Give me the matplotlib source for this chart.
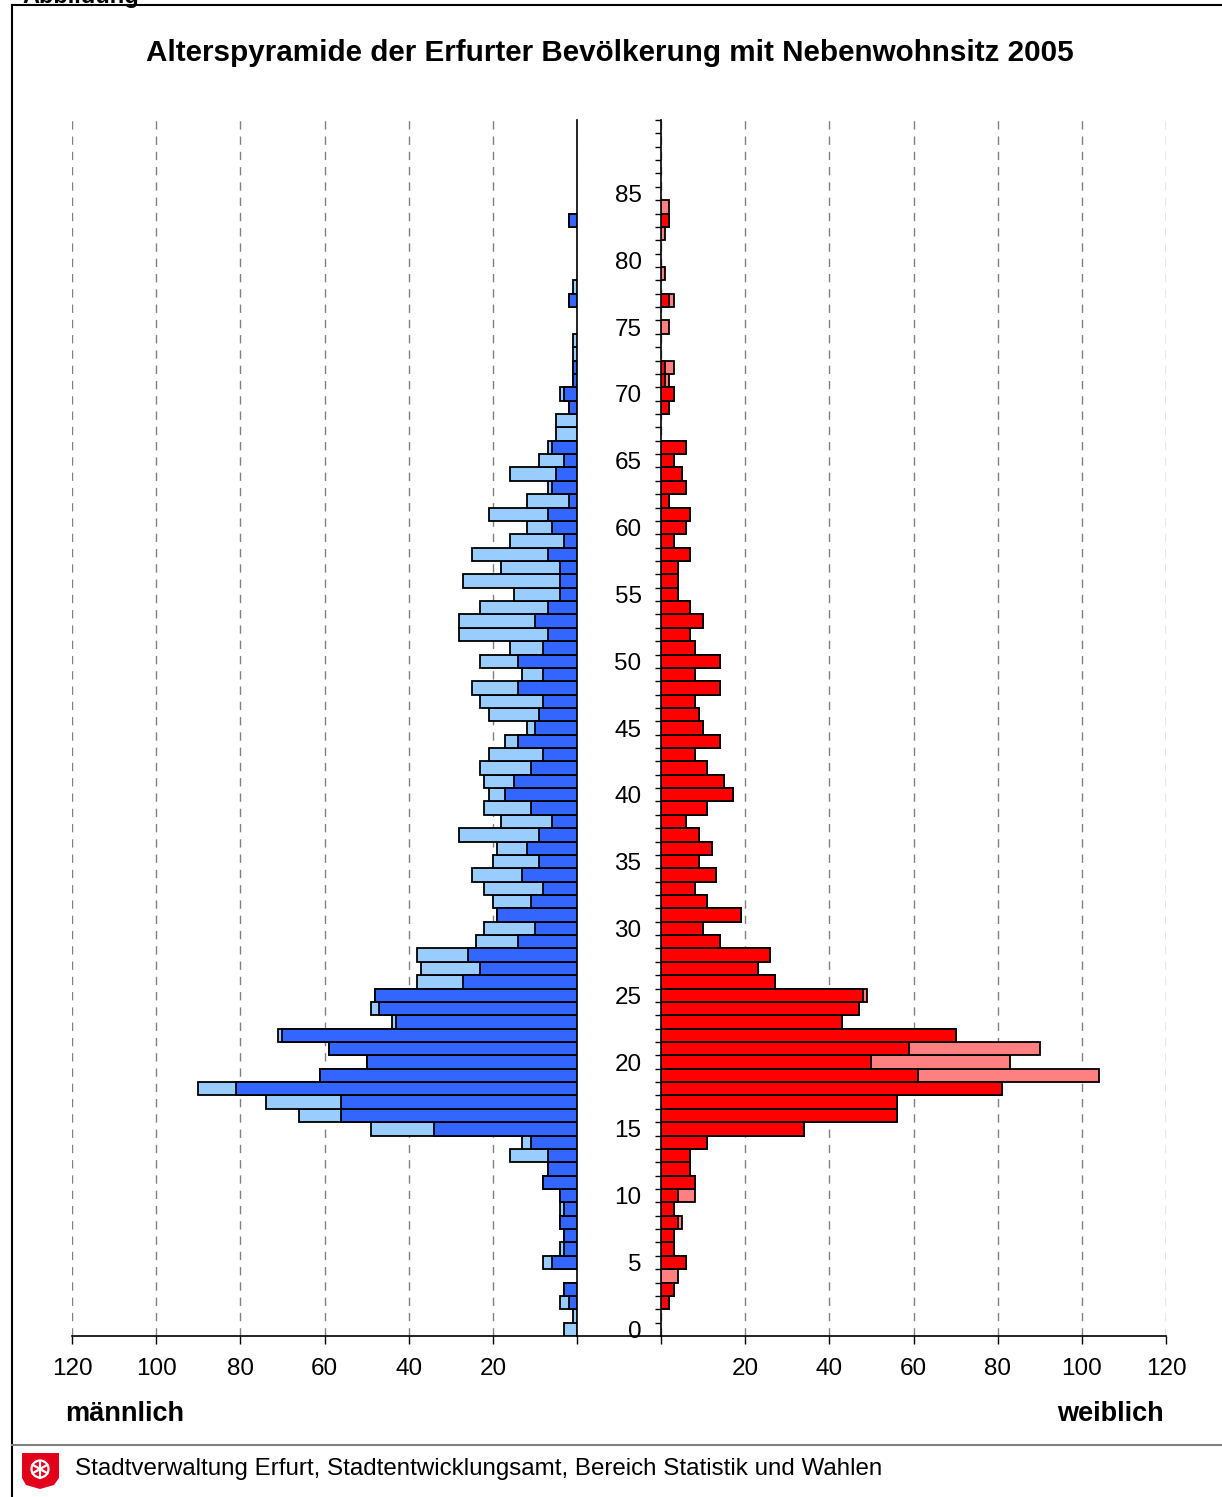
import numpy as np
import matplotlib
matplotlib.use("Agg")
import matplotlib.pyplot as plt
from matplotlib.lines import Line2D
from matplotlib.patches import Polygon, Circle

plt.rcParams['font.family'] = ['Liberation Sans', 'DejaVu Sans']

alter = np.arange(0, 91)

# maennlich: dunkler Anteil und Gesamtlaenge (hell)
m_dunkel = [0, 0, 2, 3, 0, 6, 3, 3, 4, 3,
            4, 8, 7, 7, 11, 34, 56, 56, 81, 61,
            50, 59, 70, 43, 47, 48, 27, 23, 26, 14,
            10, 19, 11, 8, 13, 9, 12, 9, 6, 11,
            17, 15, 11, 8, 14, 10, 9, 8, 14, 8,
            14, 8, 7, 10, 7, 4, 4, 4, 7, 3,
            6, 7, 2, 6, 5, 3, 6, 0, 0, 2,
            3, 1, 1, 0, 0, 0, 0, 2, 0, 0,
            0, 0, 0, 2, 0, 0, 0, 0, 0, 0,
            0]
m_gesamt = [3, 1, 4, 3, 0, 8, 4, 3, 4, 4,
            4, 8, 7, 16, 13, 49, 66, 74, 90, 61,
            50, 59, 71, 44, 49, 48, 38, 37, 38, 24,
            22, 19, 20, 22, 25, 20, 19, 28, 18, 22,
            21, 22, 23, 21, 17, 12, 21, 23, 25, 13,
            23, 16, 28, 28, 23, 15, 27, 18, 25, 16,
            12, 21, 12, 7, 16, 9, 7, 5, 5, 2,
            4, 1, 1, 1, 1, 0, 0, 2, 1, 0,
            0, 0, 0, 2, 0, 0, 0, 0, 0, 0,
            0]

# weiblich
w_dunkel = [0, 0, 2, 3, 0, 6, 3, 3, 4, 3,
            4, 8, 7, 7, 11, 34, 56, 56, 81, 61,
            50, 59, 70, 43, 47, 48, 27, 23, 26, 14,
            10, 19, 11, 8, 13, 9, 12, 9, 6, 11,
            17, 15, 11, 8, 14, 10, 9, 8, 14, 8,
            14, 8, 7, 10, 7, 4, 4, 4, 7, 3,
            6, 7, 2, 6, 5, 3, 6, 0, 0, 2,
            3, 1, 1, 0, 0, 0, 0, 2, 0, 0,
            0, 0, 0, 2, 0, 0, 0, 0, 0, 0,
            0]
w_gesamt = [0, 0, 2, 3, 4, 6, 3, 3, 5, 3,
            8, 8, 7, 7, 11, 34, 56, 56, 81, 104,
            83, 90, 70, 43, 47, 49, 27, 23, 26, 14,
            10, 19, 11, 8, 13, 9, 12, 9, 6, 11,
            17, 15, 11, 8, 14, 10, 9, 8, 14, 8,
            14, 8, 7, 10, 7, 4, 4, 4, 7, 3,
            6, 7, 2, 6, 5, 3, 6, 0, 0, 2,
            3, 2, 3, 0, 0, 2, 0, 3, 0, 1,
            0, 0, 1, 2, 2, 0, 0, 0, 0, 0,
            0]

x_ticks = [0, 20, 40, 60, 80, 100, 120]
y_labels = list(range(0, 86, 5))

titel = "Alterspyramide der Erfurter Bevölkerung mit Nebenwohnsitz 2005"
quelle = "Stadtverwaltung Erfurt, Stadtentwicklungsamt, Bereich Statistik und Wahlen"

W, H = 1222, 1497
fig = plt.figure(figsize=(W / 100, H / 100), dpi=100)


def box(x0, y0, x1, y1):
    return [x0 / W, 1 - y1 / H, (x1 - x0) / W, (y1 - y0) / H]


ax_m = fig.add_axes(box(72, 120, 577, 1336))
ax_w = fig.add_axes(box(661, 120, 1166, 1336))

kanten = dict(height=1.0, edgecolor='black', linewidth=1.3)

mg = np.array(m_gesamt); md = np.array(m_dunkel)
wg = np.array(w_gesamt); wd = np.array(w_dunkel)
ax_m.barh(alter[mg > 0], mg[mg > 0], color='#99ccff', zorder=3, **kanten)
ax_m.barh(alter[md > 0], md[md > 0], color='#3366ff', zorder=4, **kanten)
ax_w.barh(alter[wg > 0], wg[wg > 0], color='#ff8080', zorder=3, **kanten)
ax_w.barh(alter[wd > 0], wd[wd > 0], color='#ff0000', zorder=4, **kanten)

ax_m.set_xlim(120, 0)
ax_w.set_xlim(0, 120)
for ax in (ax_m, ax_w):
    ax.set_ylim(-0.5, 90.5)
    ax.set_xticks(x_ticks)
    ax.set_xticklabels(['' if v == 0 else str(v) for v in x_ticks])
    ax.tick_params(axis='x', direction='out', length=6, width=1,
                   labelsize=17.5, pad=9.5)
    ax.grid(axis='x', color='#808080', linestyle=(0, (6, 5)), linewidth=1.0)
    ax.spines['top'].set_visible(False)
    for s in ax.spines.values():
        s.set_linewidth(1.2)

ax_m.spines['left'].set_visible(False)
ax_m.tick_params(axis='y', left=False, right=False, labelleft=False)
ax_w.spines['right'].set_visible(False)
ax_w.set_yticks(y_labels)
ax_w.set_yticklabels([str(v) for v in y_labels])
ax_w.set_yticks(np.arange(0.5, 91, 1), minor=True)
ax_w.tick_params(axis='y', which='major', length=0, pad=14, labelsize=17.5)
ax_w.tick_params(axis='y', which='minor', length=4.5, width=1, direction='out')

# Grundlinie zwischen den beiden Haelften
fig.add_artist(Line2D([577 / W, 661 / W], [1 - 1336 / H] * 2,
                      color='black', lw=1.2))

fig.text(610 / W, 1 - 53 / H, titel, ha='center', va='center',
         fontsize=21.3, fontweight='bold')
fig.text(65 / W, 1 - 1414 / H, 'männlich', ha='left', va='center',
         fontsize=19.5, fontweight='bold')
fig.text(1164 / W, 1 - 1414 / H, 'weiblich', ha='right', va='center',
         fontsize=19.5, fontweight='bold')
fig.text(75 / W, 1 - 1469 / H, quelle, ha='left', va='center', fontsize=17.4)
fig.text(22 / W, 1 - 3 / H, 'Abbildung', ha='left', va='baseline',
         fontsize=17, fontweight='bold')

# Rahmen
fig.add_artist(Line2D([12 / W, 12 / W], [1 - 5 / H, 0], color='black', lw=1.5))
fig.add_artist(Line2D([12 / W, 1], [1 - 5 / H] * 2, color='black', lw=1.5))
fig.add_artist(Line2D([12 / W, 1], [1 - 1445 / H] * 2, color='#808080', lw=1.5))

# Logo (Wappen mit Rad)
def px(x, y):
    return (x / 100, (H - y) / 100)

schild = [px(22, 1453), px(59, 1453), px(59, 1478), px(54, 1485),
          px(40, 1489), px(26, 1485), px(22, 1478)]
fig.add_artist(Polygon(schild, closed=True, facecolor='#e2001a',
                       edgecolor='none', transform=fig.dpi_scale_trans))
cx, cy = px(40, 1469)
fig.add_artist(Circle((cx, cy), 0.085, facecolor='none', edgecolor='white',
                      lw=1.6, transform=fig.dpi_scale_trans))
for k in range(6):
    a = np.pi / 6 + k * np.pi / 3
    fig.add_artist(Line2D([cx, cx + 0.085 * np.cos(a)], [cy, cy + 0.085 * np.sin(a)],
                          color='white', lw=1.6, transform=fig.dpi_scale_trans))
fig.add_artist(Circle((cx, cy), 0.025, facecolor='white', edgecolor='none',
                      transform=fig.dpi_scale_trans))

fig.savefig('out.png', dpi=100)
